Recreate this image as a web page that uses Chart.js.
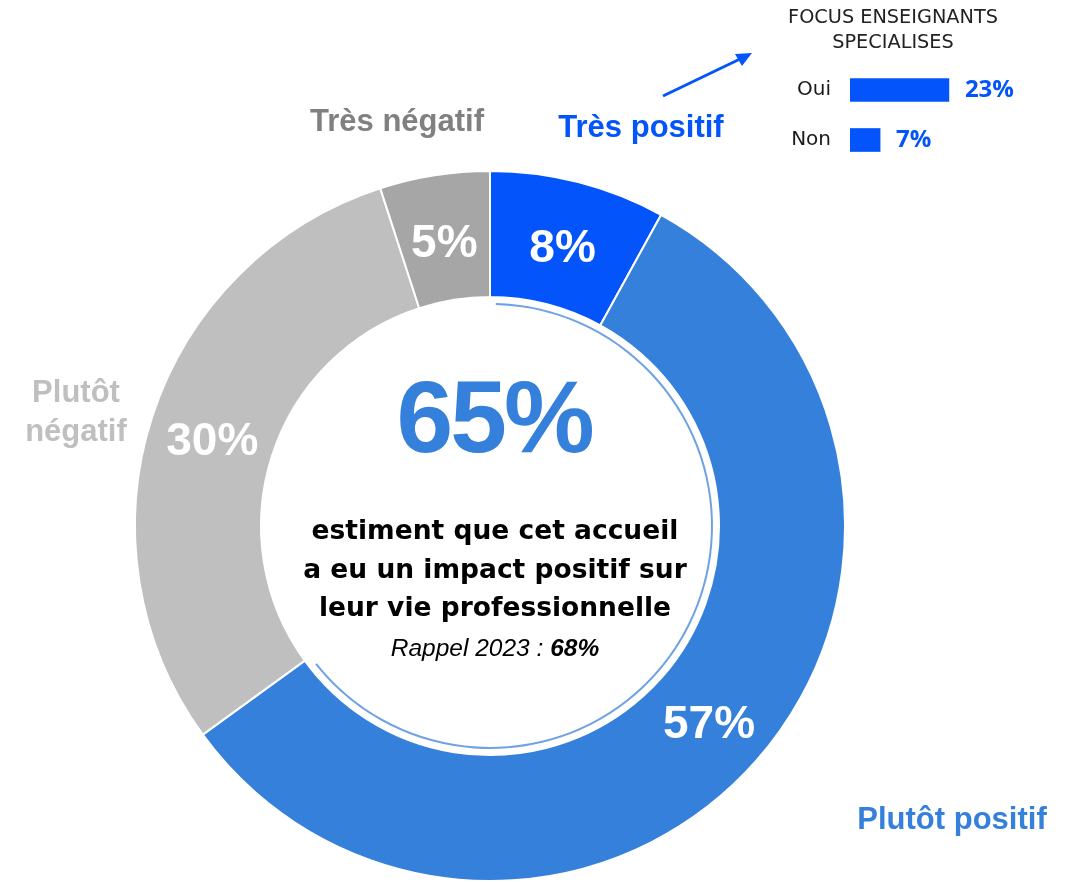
<!DOCTYPE html>
<html lang="fr">
<head>
<meta charset="utf-8">
<title>Impact de l'accueil sur la vie professionnelle</title>
<script src="https://cdn.jsdelivr.net/npm/chart.js@4"></script>
<style>
  html, body { margin: 0; padding: 0; background: #fff; }
  #page { position: relative; width: 1066px; height: 882px; overflow: hidden; }
  #donutBox { position: absolute; left: 0; top: 0; width: 1066px; height: 882px; }
  #focusBox { position: absolute; left: 780px; top: 0; width: 286px; height: 180px; }
  #arrow { position: absolute; left: 0; top: 0; pointer-events: none; }
  .txt { position: absolute; white-space: nowrap; transform: translateX(-50%); text-align: center; }
  .cat { font-family: "Liberation Sans", Arial, sans-serif; font-weight: bold; font-size: 31px; line-height: 1; }
  #focusTitle { left: 893px; top: 4px; font-family: "DejaVu Sans", sans-serif; font-size: 19.3px; line-height: 25px; color: #222; }
  #big { left: 494px; top: 366px; font-family: "Liberation Sans", Arial, sans-serif; font-weight: bold; font-size: 102px; line-height: 1; color: #3480DA; letter-spacing: -3px; }
  #body { left: 495px; top: 511px; font-family: "DejaVu Sans", sans-serif; font-weight: bold; font-size: 26.5px; line-height: 38.5px; color: #000; }
  #rappel { left: 495px; top: 636px; font-family: "Liberation Sans", Arial, sans-serif; font-style: italic; font-size: 24.5px; line-height: 1; color: #000; }
</style>
</head>
<body>
<div id="page">
  <div id="donutBox"><canvas id="donut"></canvas></div>
  <div id="focusBox"><canvas id="focus"></canvas></div>

  <div class="txt cat" style="left:397px; top:105px; color:#808080;">Très négatif</div>
  <div class="txt cat" style="left:641px; top:111px; color:#0355FB;">Très positif</div>
  <div class="txt cat" style="left:76px; top:372px; line-height:39px; color:#BFBFBF;">Plutôt<br>négatif</div>
  <div class="txt cat" style="left:952px; top:803px; color:#3480DA;">Plutôt positif</div>

  <div class="txt" id="focusTitle">FOCUS ENSEIGNANTS<br>SPECIALISES</div>

  <div class="txt" id="big"></div>
  <div class="txt" id="body">estiment que cet accueil<br>a eu un impact positif sur<br>leur vie professionnelle</div>
  <div class="txt" id="rappel">Rappel 2023 : <b>68%</b></div>

  <svg id="arrow" width="1066" height="882">
    <line x1="663" y1="96" x2="740" y2="59" stroke="#0355FB" stroke-width="3"></line>
    <polygon points="752,53 735,54 742,66" fill="#0355FB"></polygon>
  </svg>
</div>

<script>
// donut data
const categories = ['Très positif', 'Plutôt positif', 'Plutôt négatif', 'Très négatif'];
const shares = [8, 57, 30, 5];
const sliceColors = ['#0355FB', '#3480DA', '#BFBFBF', '#A6A6A6'];

// focus enseignants specialises
const focusLabels = ['Oui', 'Non'];
const focusValues = [23, 7];

const positiveShare = shares[0] + shares[1];
document.getElementById('big').textContent = positiveShare + '%';

// white % inside each slice
const sliceLabels = {
    id: 'sliceLabels',
    afterDatasetsDraw(chart) {
        const ctx = chart.ctx;
        const meta = chart.getDatasetMeta(0);
        ctx.save();
        ctx.fillStyle = '#fff';
        ctx.font = 'bold 46px "Liberation Sans", Arial, sans-serif';
        ctx.textAlign = 'center';
        ctx.textBaseline = 'alphabetic';
        meta.data.forEach((arc, i) => {
            const p = arc.tooltipPosition();
            ctx.fillText(shares[i] + '%', p.x, p.y + 19);
        });
        ctx.restore();
    }
};

new Chart(document.getElementById('donut'), {
    type: 'doughnut',
    data: {
        labels: categories,
        datasets: [
            { data: shares, backgroundColor: sliceColors, borderColor: '#fff', borderWidth: 2, hoverOffset: 0, weight: 126 },
            { data: [1], backgroundColor: 'rgba(0,0,0,0)', borderWidth: 0, hoverOffset: 0, weight: 6 },
            { data: [positiveShare, 100 - positiveShare], backgroundColor: ['#6FA2E4', 'rgba(0,0,0,0)'],
              borderWidth: 0, hoverOffset: 0, weight: 2, rotation: 1.5, circumference: 354 }
        ]
    },
    options: {
        responsive: true,
        maintainAspectRatio: false,
        animation: false,
        events: [],
        cutout: '62.25%',
        layout: { padding: { left: 134, right: 220, top: 170, bottom: 0 } },
        plugins: { legend: { display: false }, tooltip: { enabled: false } }
    },
    plugins: [sliceLabels]
});

// Oui / Non labels and values next to the bars
const focusText = {
    id: 'focusText',
    afterDatasetsDraw(chart) {
        const ctx = chart.ctx;
        const meta = chart.getDatasetMeta(0);
        ctx.save();
        ctx.textBaseline = 'middle';
        meta.data.forEach((bar, i) => {
            ctx.font = '20px "DejaVu Sans", sans-serif';
            ctx.fillStyle = '#1a1a1a';
            ctx.textAlign = 'right';
            ctx.fillText(focusLabels[i], chart.chartArea.left - 19, bar.y);
            ctx.font = 'bold 24px "Open Sans", sans-serif';
            ctx.fillStyle = '#0355FB';
            ctx.textAlign = 'left';
            ctx.fillText(focusValues[i] + '%', bar.x + 16, bar.y);
        });
        ctx.restore();
    }
};

new Chart(document.getElementById('focus'), {
    type: 'bar',
    data: {
        labels: focusLabels,
        datasets: [{ data: focusValues, backgroundColor: '#0355FB', barThickness: 23 }]
    },
    options: {
        indexAxis: 'y',
        responsive: true,
        maintainAspectRatio: false,
        animation: false,
        events: [],
        layout: { padding: { left: 70, right: 44, top: 65, bottom: 15 } },
        scales: {
            x: { display: false, min: 0, max: 40 },
            y: { display: false }
        },
        plugins: { legend: { display: false }, tooltip: { enabled: false } }
    },
    plugins: [focusText]
});
</script>
</body>
</html>
